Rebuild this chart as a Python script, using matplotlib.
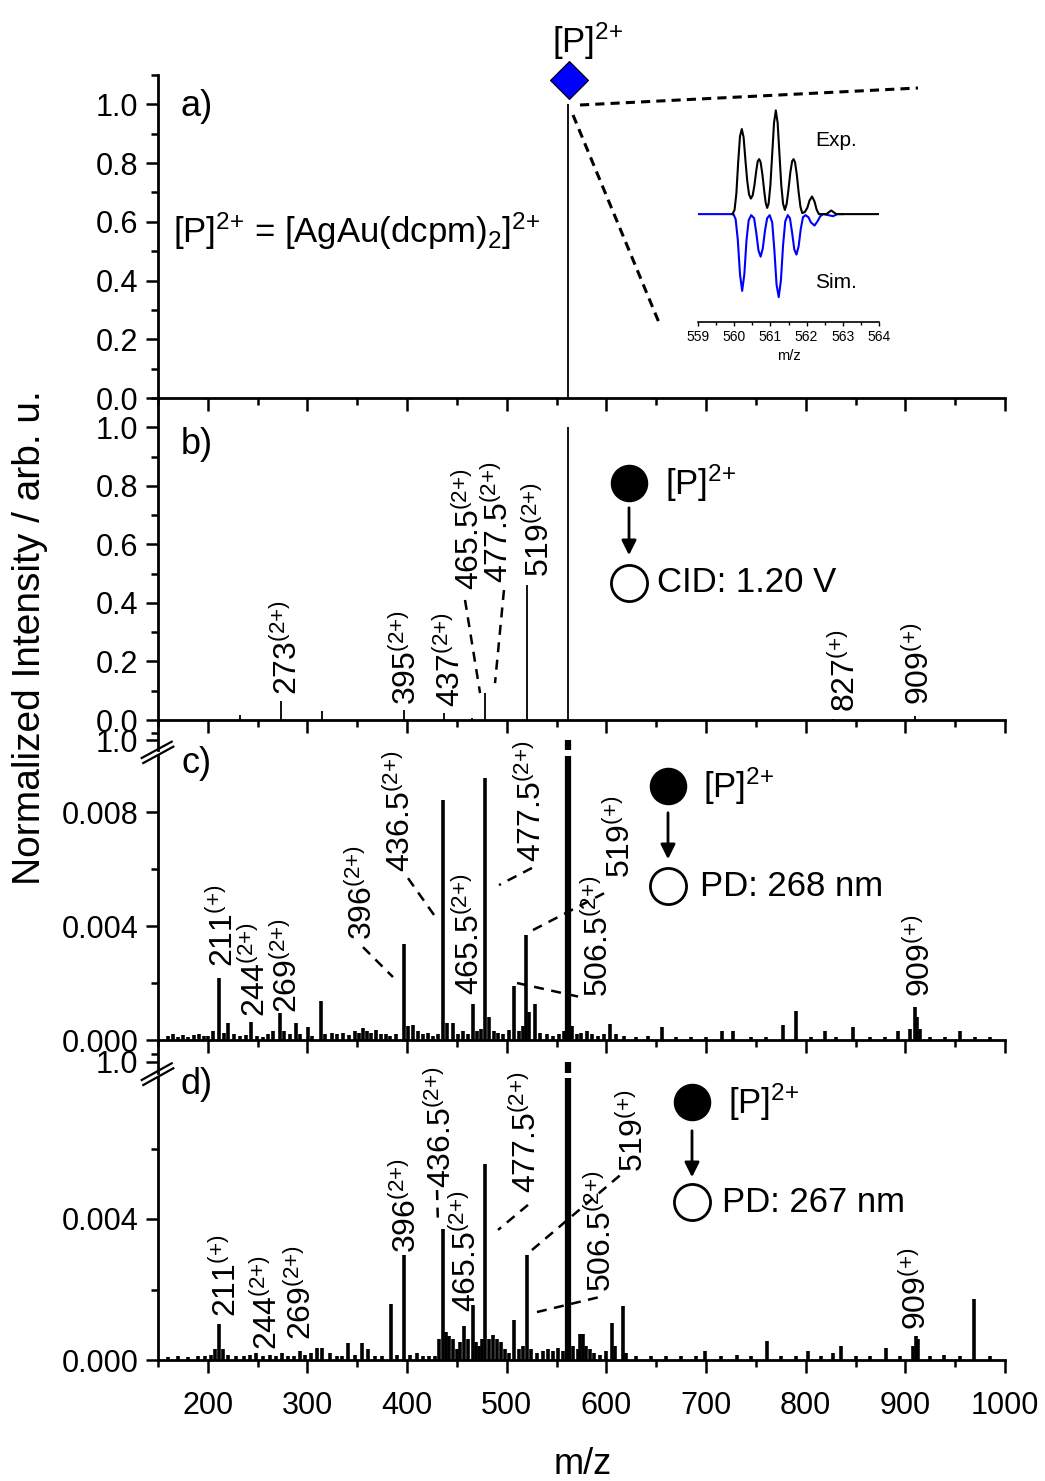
import matplotlib
matplotlib.use('Agg')
import matplotlib.pyplot as plt
from matplotlib.ticker import MultipleLocator, FixedLocator, FormatStrFormatter
from matplotlib.lines import Line2D

plt.rcParams['font.family'] = ['Liberation Sans', 'DejaVu Sans']
plt.rcParams['mathtext.fontset'] = 'custom'
plt.rcParams['mathtext.rm'] = 'Liberation Sans'
plt.rcParams['mathtext.it'] = 'Liberation Sans:italic'
plt.rcParams['mathtext.bf'] = 'Liberation Sans:bold'

# ---------------- data ----------------
# a) precursor spectrum
mz_a = [561.0]
int_a = [1.0]

# b) CID 1.20 V
mz_b = [232.3, 273.5, 314.3, 397.0, 437.5, 465.5, 478.3, 520.0, 561.0, 827.0, 909.5]
int_b = [0.017, 0.065, 0.032, 0.034, 0.025, 0.008, 0.091, 0.46, 1.0, 0.004, 0.015]

# c) PD 268 nm
mz_c = [160, 165, 170, 175, 180, 186, 191, 196, 200, 205, 211.5, 216, 220.6, 226, 232, 238, 243, 249,
        255, 260, 265, 272.5, 276, 282, 288.2, 293, 300.9, 305, 313.6, 318, 325, 330, 336, 342, 348,
        352, 356, 360, 364, 369, 374, 379, 383, 389, 397.2, 401, 406.3, 411, 416, 421, 426, 431,
        436.4, 440, 446.4, 451, 456, 461, 465.9, 470, 474, 478.2, 482, 487, 491.6, 496, 502, 507.6,
        512, 516, 519.4, 522, 528.4, 533, 540, 546, 552, 557, 561.5, 565, 570, 575, 580.3, 586, 592,
        598, 603.7, 610, 618, 630, 642, 655.6, 670, 685, 700, 715.8, 727.4, 745, 760, 777.6, 790.4,
        805, 819.5, 830, 847.9, 865, 880, 893, 905, 909.8, 912, 915, 925, 940, 955, 970, 985]
int_c = [0.00015, 0.0002, 0.00012, 0.00018, 0.0001, 0.00016, 0.00022, 0.00013, 0.00015, 0.0003,
         0.00216, 0.00025, 0.00059, 0.0002, 0.00015, 0.00018, 0.00064, 0.00015,
         0.00012, 0.0002, 0.0003, 0.00094, 0.0003, 0.0002, 0.00061, 0.0002, 0.00047, 0.00015,
         0.00137, 0.0002, 0.00025, 0.0002, 0.00025, 0.00018, 0.0003,
         0.00025, 0.00041, 0.0003, 0.00025, 0.00035, 0.0002, 0.0002, 0.00015, 0.0002, 0.00336,
         0.0005, 0.00053, 0.0003, 0.0002, 0.00025, 0.00015, 0.0002,
         0.00842, 0.0006, 0.00061, 0.0002, 0.0003, 0.0002, 0.00126, 0.0003, 0.0004, 0.0092,
         0.0008, 0.0003, 0.00025, 0.0002, 0.00035, 0.0019,
         0.0003, 0.0005, 0.00368, 0.001, 0.00126, 0.00025, 0.0002, 0.00015, 0.0002, 0.0003, 1.0,
         0.0005, 0.0002, 0.00025, 0.0003, 0.0002, 0.00015,
         0.0002, 0.00056, 0.0002, 0.00015, 0.00012, 0.00015, 0.00047, 0.0001, 0.0001, 0.00012,
         0.0003, 0.0003, 0.0001, 0.0001, 0.00053, 0.00103,
         0.0001, 0.0003, 0.0001, 0.00047, 0.0001, 0.0001, 0.0003, 0.0004, 0.00117, 0.0008, 0.0004,
         0.0001, 0.0001, 0.0003, 0.0001, 0.0001]

# d) PD 267 nm
mz_d = [160, 170, 180, 190, 197, 203, 207, 211.2, 215.5, 220, 228, 236, 242, 248.4, 255, 262, 268,
        274.2, 280, 286, 292.5, 298, 304, 309.3, 314.3, 322.6, 330, 335, 341, 348, 354.4, 361, 368,
        375, 383.5, 390, 396.9, 403, 409.7, 416, 422, 428, 432, 436.4, 439, 442, 446, 450, 453,
        457.4, 461, 465.9, 469, 472, 475, 478.2, 482, 486, 490, 494, 498, 502, 507.6, 512, 516,
        520, 524, 530, 536, 541, 546, 551, 556, 561.5, 566, 571, 573.6, 576.9, 580, 584, 588, 594,
        600, 605.4, 609, 616.4, 620, 630, 645, 660, 675, 690, 699, 715, 730.9, 745, 761, 775, 790,
        802.7, 815, 827.8, 835.1, 850, 865, 880.4, 895, 908, 910.8, 913, 925, 938.5, 955, 969, 985]
int_d = [0.00008, 0.0001, 0.00008, 0.00012, 0.0001, 0.00015, 0.0003, 0.00101, 0.0003, 0.00015,
         0.0001, 0.0001, 0.00015, 0.0002, 0.00012, 0.00015, 0.0001,
         0.0002, 0.0001, 0.00012, 0.00026, 0.00015, 0.0002, 0.00035, 0.00035, 0.0002, 0.00012,
         0.0001, 0.00049, 0.00015, 0.00048, 0.0003, 0.0001,
         0.0001, 0.0016, 0.00015, 0.00297, 0.00015, 0.0002, 0.0001, 0.00012, 0.0001, 0.0006,
         0.00371, 0.0008, 0.00068, 0.0006, 0.0003, 0.0005,
         0.00097, 0.0006, 0.00155, 0.0005, 0.0004, 0.0006, 0.00557, 0.0006, 0.0007, 0.0006,
         0.0005, 0.0003, 0.0002, 0.00114, 0.0003, 0.0004,
         0.00299, 0.0003, 0.0002, 0.00025, 0.0003, 0.00025, 0.00035, 0.00025, 1.0, 0.0004, 0.0003,
         0.00073, 0.00073, 0.0004, 0.0003, 0.0002, 0.00015,
         0.00025, 0.00104, 0.0004, 0.00153, 0.0002, 0.0001, 0.0001, 0.00012, 0.0001, 0.0001,
         0.00026, 0.0001, 0.00015, 0.0001, 0.00054, 0.0001, 0.0001,
         0.00026, 0.0001, 0.0002, 0.0004, 0.0001, 0.0001, 0.00035, 0.0001, 0.0004, 0.00068, 0.0006,
         0.0001, 0.00015, 0.0001, 0.00172, 0.0001]

# inset: isotope pattern of [P]2+ (experiment above, simulation below)
exp_mz = [559.95, 560.01, 560.06, 560.11, 560.16, 560.21, 560.26, 560.31, 560.36, 560.41, 560.46,
          560.51, 560.56, 560.61, 560.65, 560.69, 560.73, 560.78, 560.83, 560.87, 560.91,
          560.95, 561.00, 561.05, 561.10, 561.15, 561.20, 561.25, 561.30, 561.35, 561.40,
          561.45, 561.50, 561.55, 561.60, 561.64, 561.68, 561.73, 561.78, 561.83, 561.88,
          561.95, 562.02, 562.08, 562.15, 562.22, 562.28, 562.34,
          562.55, 562.62, 562.68, 562.74, 562.82, 564.0]
exp_int = [0.0, 0.04, 0.20, 0.50, 0.75, 0.82, 0.74, 0.52, 0.32, 0.19, 0.15,
           0.18, 0.28, 0.42, 0.51, 0.53, 0.50, 0.38, 0.22, 0.11, 0.06,
           0.10, 0.28, 0.58, 0.88, 1.0, 0.88, 0.58, 0.28, 0.10, 0.04,
           0.10, 0.24, 0.40, 0.51, 0.53, 0.50, 0.38, 0.21, 0.07, 0.01,
           0.02, 0.06, 0.13, 0.17, 0.12, 0.04, 0.0,
           0.0, 0.02, 0.035, 0.02, 0.0, 0.0]
sim_mz = [559.0, 559.98, 560.04, 560.10, 560.16, 560.22, 560.28, 560.34, 560.40, 560.47,
          560.55, 560.61, 560.67, 560.73, 560.79, 560.85, 560.91, 560.98,
          561.05, 561.11, 561.17, 561.23, 561.29, 561.35, 561.41, 561.48,
          561.54, 561.60, 561.66, 561.72, 561.78, 561.84, 561.90, 561.97,
          562.05, 562.12, 562.22, 562.30, 562.38, 562.46, 562.60, 562.73, 562.85, 563.0]
sim_int = [0.0, 0.0, -0.05, -0.25, -0.58, -0.74, -0.58, -0.25, -0.06, -0.01,
           -0.04, -0.18, -0.35, -0.41, -0.33, -0.16, -0.04, -0.01,
           -0.08, -0.35, -0.68, -0.80, -0.64, -0.30, -0.07, -0.01,
           -0.04, -0.18, -0.34, -0.39, -0.31, -0.14, -0.03, -0.01,
           -0.03, -0.08, -0.11, -0.07, -0.02, 0.0, -0.01, -0.02, 0.0, 0.0]

# peak labels (text, m/z anchor, intensity anchor)
lab_b = ['273$^{(2{+})}$', '395$^{(2{+})}$', '437$^{(2{+})}$', '465.5$^{(2{+})}$',
         '477.5$^{(2{+})}$', '519$^{(2{+})}$', '827$^{({+})}$', '909$^{({+})}$']
labx_b = [289.0, 409.4, 452.6, 472.6, 501.7, 541.9, 849.0, 924.2]
laby_b = [0.085, 0.051, 0.044, 0.444, 0.468, 0.489, 0.027, 0.051]

lab_cd = ['211$^{({+})}$', '244$^{(2{+})}$', '269$^{(2{+})}$', '396$^{(2{+})}$',
          '436.5$^{(2{+})}$', '465.5$^{(2{+})}$', '477.5$^{(2{+})}$', '506.5$^{(2{+})}$',
          '519$^{({+})}$', '909$^{({+})}$']
labx_c = [225.6, 256.9, 289.0, 364.3, 402.4, 472.6, 534.8, 601.8, 623.2, 925.2]
laby_c = [0.00257, 0.00081, 0.00095, 0.00351, 0.00590, 0.00158, 0.00625, 0.00151, 0.00568, 0.00151]
labx_d = [227.8, 269.2, 304.0, 409.4, 444.5, 469.6, 529.8, 605.1, 637.2, 921.2]
laby_d = [0.00122, 0.00028, 0.00057, 0.00304, 0.00488, 0.00136, 0.00474, 0.00193, 0.00533, 0.00085]

# dashed leader lines ((x0, x1), (y0, y1)) in data units
lead_b = [((458.1, 473.2), (0.410, 0.092)), ((497.2, 488.2), (0.444, 0.126))]
lead_c = [((355.7, 385.8), (0.00326, 0.00221)), ((400.9, 427.0), (0.00568, 0.00439)),
          ((525.3, 492.2), (0.00604, 0.00544)), ((510.3, 573.5), (0.00200, 0.00151)),
          ((526.3, 603.6), (0.00386, 0.00526))]
lead_d = [((430.0, 431.0), (0.00482, 0.00383)), ((521.3, 491.2), (0.00440, 0.00369)),
          ((530.3, 593.6), (0.00136, 0.00179)), ((525.3, 616.6), (0.00312, 0.00531))]

# ---------------- figure ----------------
W, H = 1045, 1481
fig = plt.figure(figsize=(W / 100, H / 100), dpi=100)


def fx(x):
    return x / W


def fy(y):
    return 1 - y / H


def add_ax(x0, y0, x1, y1):
    return fig.add_axes([x0 / W, 1 - y1 / H, (x1 - x0) / W, (y1 - y0) / H])


LEFT, RIGHT = 158, 1005
TICK_FS = 22
LAB_FS = 23


def setup(ax, ylim, major, minor, fmt, bottom=True, xlabels=False):
    ax.set_xlim(150, 1000)
    ax.set_ylim(*ylim)
    ax.patch.set_alpha(0)
    for s in ['top', 'right']:
        ax.spines[s].set_visible(False)
    ax.spines['left'].set_linewidth(2.0)
    ax.spines['bottom'].set_linewidth(2.0)
    ax.spines['bottom'].set_visible(bottom)
    ax.xaxis.set_major_locator(MultipleLocator(100))
    ax.xaxis.set_minor_locator(MultipleLocator(50))
    ax.yaxis.set_major_locator(FixedLocator(major))
    ax.yaxis.set_minor_locator(FixedLocator(minor))
    ax.yaxis.set_major_formatter(FormatStrFormatter(fmt))
    ax.tick_params(axis='y', which='major', direction='out', length=9, width=1.8,
                   labelsize=TICK_FS, pad=5)
    ax.tick_params(axis='y', which='minor', direction='out', length=5, width=1.8)
    ax.tick_params(axis='x', which='major', direction='out', length=9, width=1.8,
                   labelsize=TICK_FS, pad=13, bottom=bottom, labelbottom=xlabels)
    ax.tick_params(axis='x', which='minor', direction='out', length=5, width=1.8,
                   bottom=bottom)


def sticks(ax, mz, inten, lw_small, lw_big):
    widths = [lw_big if v > 0.5 else lw_small for v in inten]
    ax.vlines(mz, 0, inten, colors='k', linewidths=widths)


def labels(ax, texts, xs, ys):
    for t, x, y in zip(texts, xs, ys):
        ax.text(x, y, t, rotation=90, rotation_mode='anchor', ha='left', va='baseline',
                fontsize=LAB_FS)


def leaders(ax, lines):
    for (xs, ys) in lines:
        ax.plot(xs, ys, color='k', lw=1.8, ls=(0, (4, 3)), clip_on=False)


# panel a
ax_a = add_ax(LEFT, 75, RIGHT, 398)
setup(ax_a, (0, 1.1), [0, 0.2, 0.4, 0.6, 0.8, 1.0], [0.1, 0.3, 0.5, 0.7, 0.9, 1.1], '%.1f')
sticks(ax_a, mz_a, int_a, 1.3, 1.3)
ax_a.plot([mz_a[0] + 1], [1.083], marker='D', ms=19, color='#0000ff', mec='k', mew=0.8,
          clip_on=False)

# panel b
ax_b = add_ax(LEFT, 398, RIGHT, 720)
setup(ax_b, (0, 1.1), [0, 0.2, 0.4, 0.6, 0.8, 1.0], [0.1, 0.3, 0.5, 0.7, 0.9, 1.1], '%.1f')
sticks(ax_b, mz_b, int_b, 1.3, 1.3)
labels(ax_b, lab_b, labx_b, laby_b)
leaders(ax_b, lead_b)

# panel c (broken axis)
ax_cu = add_ax(LEFT, 720, RIGHT, 750)
setup(ax_cu, (0.967, 1.067), [1.0], [1.025], '%.1f', bottom=False)
sticks(ax_cu, mz_c, int_c, 2.6, 4.5)
ax_c = add_ax(LEFT, 756, RIGHT, 1040)
setup(ax_c, (0, 0.00997), [0, 0.004, 0.008], [0.002, 0.006], '%.3f')
sticks(ax_c, mz_c, int_c, 2.6, 4.5)
labels(ax_c, lab_cd, labx_c, laby_c)
leaders(ax_c, lead_c)

# panel d (broken axis)
ax_du = add_ax(LEFT, 1043, RIGHT, 1073)
setup(ax_du, (0.963, 1.063), [1.0], [1.025], '%.1f', bottom=False)
sticks(ax_du, mz_d, int_d, 2.6, 4.5)
ax_d = add_ax(LEFT, 1078, RIGHT, 1360)
setup(ax_d, (0, 0.0080), [0, 0.004], [0.002, 0.006], '%.3f', xlabels=True)
sticks(ax_d, mz_d, int_d, 2.6, 4.5)
labels(ax_d, lab_cd, labx_d, laby_d)
leaders(ax_d, lead_d)

# axis break marks
for (ya, yb) in [((758, 741.7), (763, 746.7)), ((1080, 1063.3), (1085, 1068.3))]:
    fig.add_artist(Line2D([fx(141.7), fx(171.7)], [fy(ya[0]), fy(ya[1])], color='k', lw=1.6))
    fig.add_artist(Line2D([fx(143.3), fx(173.3)], [fy(yb[0]), fy(yb[1])], color='k', lw=1.6))

# panel letters
for t, (x, y) in zip(['a)', 'b)', 'c)', 'd)'], [(197, 106), (197, 445), (197, 764), (197, 1084)]):
    fig.text(fx(x), fy(y), t, ha='center', va='center', fontsize=26)

# texts in panel a
fig.text(fx(173), fy(243), '[P]$^{2{+}}$ = [AgAu(dcpm)$_{2}$]$^{2{+}}$', ha='left',
         va='baseline', fontsize=25)
fig.text(fx(552), fy(53), '[P]$^{2{+}}$', ha='left', va='baseline', fontsize=25)

# zoom lines to inset
fig.add_artist(Line2D([fx(580), fx(918)], [fy(105), fy(88)], color='k', lw=2.2, ls=(0, (3, 2))))
fig.add_artist(Line2D([fx(573), fx(660)], [fy(115), fy(325)], color='k', lw=2.2, ls=(0, (3, 2))))

# inset
ax_in = add_ax(698, 100, 879, 322)
ax_in.patch.set_alpha(0)
ax_in.plot(sim_mz, sim_int, color='#0000ff', lw=1.5)
ax_in.plot(exp_mz, exp_int, color='k', lw=1.5)
ax_in.set_xlim(559, 564)
ax_in.set_ylim(-1.04, 1.10)
for s in ['top', 'right', 'left']:
    ax_in.spines[s].set_visible(False)
ax_in.spines['bottom'].set_linewidth(1.2)
ax_in.set_yticks([])
ax_in.xaxis.set_major_locator(MultipleLocator(1))
ax_in.xaxis.set_minor_locator(MultipleLocator(0.5))
ax_in.tick_params(axis='x', which='major', length=3, width=1, labelsize=10, pad=3)
ax_in.tick_params(axis='x', which='minor', length=2, width=1)
ax_in.set_xlabel('m/z', fontsize=10.5, labelpad=3)
fig.text(fx(815), fy(141), 'Exp.', ha='left', va='center', fontsize=15)
fig.text(fx(815), fy(283), 'Sim.', ha='left', va='center', fontsize=15)

# precursor -> fragment schemes
schemes = [(629, 483, 583, 665, 657, 505, 558, 'CID: 1.20 V'),
           (668, 786, 886, 703, 700, 810, 862, 'PD: 268 nm'),
           (692, 1102, 1202, 728, 722, 1128, 1180, 'PD: 267 nm')]
for (cx, y1, y2, tx1, tx2, a0, a1, txt) in schemes:
    fig.add_artist(Line2D([fx(cx)], [fy(y1)], marker='o', ms=26, color='k', ls='none'))
    fig.add_artist(Line2D([fx(cx)], [fy(y2)], marker='o', ms=26, mfc='white', mec='k',
                          mew=2.0, ls='none'))
    fig.text(fx(tx1), fy(y1), '[P]$^{2{+}}$', ha='left', va='center', fontsize=25)
    fig.text(fx(tx2), fy(y2), txt, ha='left', va='center', fontsize=25)
    fig.add_artist(plt.Annotation('', xy=(fx(cx), fy(a1)), xytext=(fx(cx), fy(a0)),
                                  xycoords='figure fraction', textcoords='figure fraction',
                                  arrowprops=dict(arrowstyle='-|>', lw=2.0, color='k',
                                                  mutation_scale=22)))

# axis titles
fig.text(fx(30), fy(638), 'Normalized Intensity / arb. u.', rotation=90, ha='center',
         va='center', fontsize=28)
fig.text(fx(583), fy(1465), 'm/z', ha='center', va='center', fontsize=26)

fig.savefig('out.png', dpi=100)
